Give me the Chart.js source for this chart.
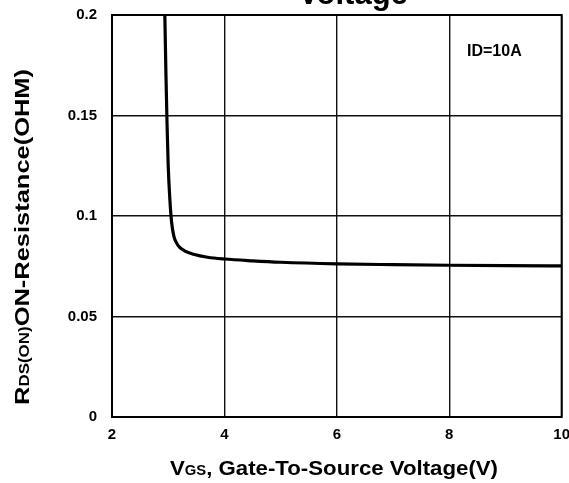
<!DOCTYPE html>
<html>
<head>
<meta charset="utf-8">
<script src="https://cdn.jsdelivr.net/npm/chart.js@4"></script>
<style>
  html, body { margin: 0; padding: 0; background: #fff; }
  #wrap { width: 569px; height: 483px; overflow: hidden; position: relative; }
  #c { position: absolute; left: 0; top: -9px; }
</style>
</head>
<body>
<div id="wrap"><canvas id="c" width="579" height="492"></canvas></div>
<script>
// Gate voltage (V) vs on-resistance (ohm), ID = 10A
const vgs = [2.94, 2.96, 2.98, 3.0, 3.03, 3.06, 3.1, 3.15, 3.2, 3.3, 3.45, 3.7, 4.0, 4.5, 5.0, 6.0, 7.0, 8.0, 9.0, 10.0];
const rdsOn = [0.2, 0.17, 0.145, 0.125, 0.108, 0.097, 0.09, 0.0865, 0.0845, 0.0825, 0.081, 0.0795, 0.0786, 0.0777, 0.077, 0.0762, 0.0758, 0.0755, 0.0753, 0.0752];
const xTicks = [2, 4, 6, 8, 10];
const yTicks = [0, 0.05, 0.1, 0.15, 0.2];

const FONT = "'Liberation Sans', Arial, sans-serif";
const TOP = 9; // canvas is shifted up by this much

// draws mixed-size text (main + subscript) stretched to a given length
function drawParts(ctx, parts, cx, baseline, target) {
  let w = 0;
  parts.forEach(p => { ctx.font = 'bold ' + p[1] + 'px ' + FONT; w += ctx.measureText(p[0]).width; });
  const k = target / w;
  ctx.save();
  ctx.translate(cx - target / 2, baseline);
  ctx.scale(k, 1);
  let x = 0;
  parts.forEach(p => {
    ctx.font = 'bold ' + p[1] + 'px ' + FONT;
    ctx.fillText(p[0], x, 0);
    x += ctx.measureText(p[0]).width;
  });
  ctx.restore();
}

const decor = {
  id: 'decor',
  afterDraw(chart) {
    const { ctx, chartArea: a } = chart;
    ctx.save();
    ctx.strokeStyle = '#000';
    ctx.lineWidth = 2;
    ctx.strokeRect(a.left, a.top, a.right - a.left, a.bottom - a.top);

    ctx.fillStyle = '#000';
    ctx.textBaseline = 'alphabetic';
    ctx.textAlign = 'center';
    ctx.font = 'bold 31px ' + FONT;
    ctx.fillText('Voltage', 353, TOP + 4);

    ctx.font = 'bold 16px ' + FONT;
    ctx.textAlign = 'left';
    ctx.fillText('ID=10A', 467, TOP + 56);

    drawParts(ctx, [['V', 21], ['GS', 14], [', Gate-To-Source Voltage(V)', 21]], 334, TOP + 475, 328);

    ctx.save();
    ctx.translate(29, TOP + 237);
    ctx.rotate(-Math.PI / 2);
    drawParts(ctx, [['R', 21], ['DS(ON)', 14], ['ON-Resistance(OHM)', 21]], 0, 0, 336);
    ctx.restore();
    ctx.restore();
  }
};

new Chart(document.getElementById('c'), {
  type: 'scatter',
  data: {
    datasets: [{
      data: vgs.map((v, i) => ({ x: v, y: rdsOn[i] })),
      showLine: true,
      borderColor: '#000',
      borderWidth: 3.2,
      pointRadius: 0,
      cubicInterpolationMode: 'monotone'
    }]
  },
  options: {
    responsive: false,
    animation: false,
    layout: { padding: 0 },
    plugins: { legend: { display: false }, tooltip: { enabled: false } },
    scales: {
      x: {
        type: 'linear', min: 2, max: 10,
        afterBuildTicks: s => { s.ticks = xTicks.map(v => ({ value: v })); },
        afterFit: s => { s.height = 66; },
        grid: { color: '#111', lineWidth: 1.4, drawTicks: false },
        border: { display: false },
        ticks: { color: '#000', padding: 9, maxRotation: 0, font: { family: FONT, size: 15, weight: 'bold' } }
      },
      y: {
        type: 'linear', min: 0, max: 0.2,
        afterBuildTicks: s => { s.ticks = yTicks.map(v => ({ value: v })); },
        afterFit: s => { s.width = 112; },
        grid: { color: '#111', lineWidth: 1.4, drawTicks: false },
        border: { display: false },
        ticks: { color: '#000', padding: 15, font: { family: FONT, size: 15, weight: 'bold' },
          callback: v => String(v) }
      }
    }
  },
  plugins: [decor]
});
</script>
</body>
</html>
